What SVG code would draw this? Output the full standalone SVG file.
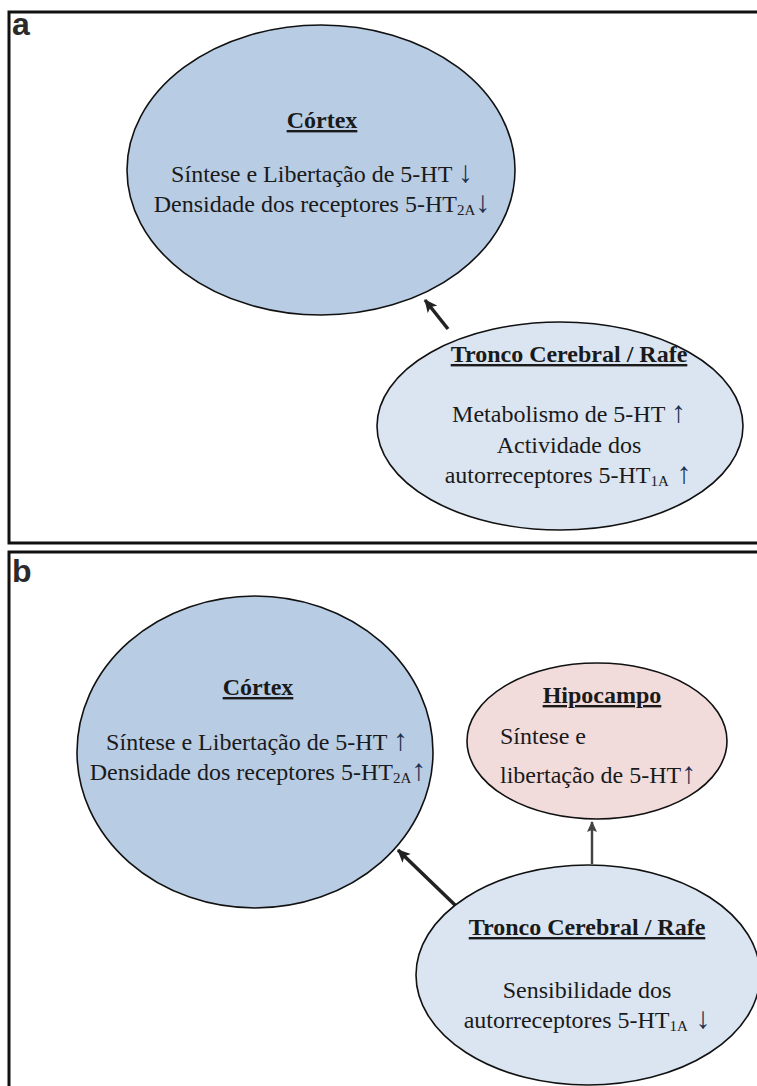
<svg xmlns="http://www.w3.org/2000/svg" width="757" height="1086" viewBox="0 0 757 1086">
<defs>
<style>
.frame{fill:none;stroke:#111;stroke-width:3}
.lbl{font-family:"Liberation Sans",Arial,sans-serif;font-weight:bold;font-size:32px;fill:#2b2b2b}
.cor{fill:#b8cce4;stroke:#111;stroke-width:1.6}
.tro{fill:#dbe5f1;stroke:#111;stroke-width:1.6}
.hip{fill:#f2dcdb;stroke:#111;stroke-width:1.6}
.t{font-family:"Liberation Serif","Times New Roman",serif;font-size:24px;fill:#1a1a1a}
.h{font-weight:bold;text-decoration:underline}
.sub{font-size:15px}
.ar{fill:#1c2f4d;font-size:30px}
.con{stroke:#222;stroke-width:3.5;fill:none}
.con2{stroke:#444;stroke-width:2.5;fill:none}
</style>
<marker id="ah" markerWidth="14" markerHeight="14" refX="12" refY="7" orient="auto" markerUnits="userSpaceOnUse">
<path d="M0,1 L13,7 L0,13 L3,7 Z" fill="#222"/>
</marker>
<marker id="ah2" markerWidth="12" markerHeight="12" refX="10" refY="6" orient="auto" markerUnits="userSpaceOnUse">
<path d="M0,1 L11,6 L0,11 L2,6 Z" fill="#444"/>
</marker>
</defs>
<rect width="757" height="1086" fill="#fff"/>

<g id="panel-a">
<rect class="frame" x="9" y="12" width="770" height="531"/>
<text class="lbl" x="12" y="35">a</text>
</g>
<g id="panel-b">
<rect class="frame" x="9" y="552" width="770" height="560"/>
<text class="lbl" x="12" y="582">b</text>
</g>

<g id="connectors">
<line class="con" x1="448" y1="329" x2="425" y2="300" marker-end="url(#ah)"/>
<line class="con" x1="455" y1="905" x2="398" y2="850" marker-end="url(#ah)"/>
<line class="con2" x1="592" y1="864" x2="592" y2="822" marker-end="url(#ah2)"/>
</g>

<g id="cortex-a">
<ellipse class="cor" cx="321" cy="170" rx="194" ry="145"/>
<text class="t h" x="322" y="128" text-anchor="middle">Córtex</text>
<text class="t" x="322" y="182" text-anchor="middle">Síntese e Libertação de 5-HT <tspan class="ar">↓</tspan></text>
<text class="t" x="322" y="212" text-anchor="middle">Densidade dos receptores 5-HT<tspan class="sub" dy="3">2A</tspan><tspan class="ar" dy="-3">↓</tspan></text>
</g>

<g id="tronco-a">
<ellipse class="tro" cx="560" cy="426" rx="183" ry="104"/>
<text class="t h" x="569" y="362" text-anchor="middle">Tronco Cerebral / Rafe</text>
<text class="t" x="569" y="422" text-anchor="middle">Metabolismo de 5-HT <tspan class="ar">↑</tspan></text>
<text class="t" x="569" y="453" text-anchor="middle">Actividade dos</text>
<text class="t" x="568" y="483" text-anchor="middle">autorreceptores 5-HT<tspan class="sub" dy="3">1A</tspan><tspan class="ar" dy="-3"> ↑</tspan></text>
</g>

<g id="cortex-b">
<ellipse class="cor" cx="255" cy="752" rx="178" ry="156"/>
<text class="t h" x="258" y="695" text-anchor="middle">Córtex</text>
<text class="t" x="257" y="750" text-anchor="middle">Síntese e Libertação de 5-HT <tspan class="ar">↑</tspan></text>
<text class="t" x="258" y="780" text-anchor="middle">Densidade dos receptores 5-HT<tspan class="sub" dy="3">2A</tspan><tspan class="ar" dy="-3">↑</tspan></text>
</g>

<g id="hipocampo-b">
<ellipse class="hip" cx="597" cy="741" rx="130" ry="78"/>
<text class="t h" x="602" y="703" text-anchor="middle">Hipocampo</text>
<text class="t" x="500" y="744">Síntese e</text>
<text class="t" x="500" y="783">libertação de 5-HT<tspan class="ar">↑</tspan></text>
</g>

<g id="tronco-b">
<ellipse class="tro" cx="588" cy="975" rx="172" ry="110"/>
<text class="t h" x="587" y="935" text-anchor="middle">Tronco Cerebral / Rafe</text>
<text class="t" x="587" y="998" text-anchor="middle">Sensibilidade dos</text>
<text class="t" x="587" y="1028" text-anchor="middle">autorreceptores 5-HT<tspan class="sub" dy="3">1A</tspan><tspan class="ar" dy="-3"> ↓</tspan></text>
</g>
</svg>
